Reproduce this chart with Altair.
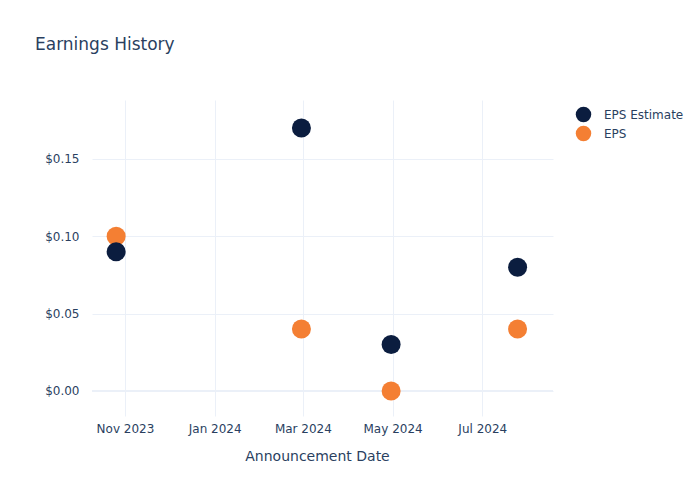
import altair as alt
import pandas as pd

dates = ["2023-10-26", "2024-02-29", "2024-04-30", "2024-07-25"]
eps_estimate = [0.09, 0.17, 0.03, 0.08]
eps_actual = [0.10, 0.04, 0.00, 0.04]
series_names = ["EPS Estimate", "EPS"]
series_colors = ["#0b1d3f", "#f47f33"]
y_ticks = [0.0, 0.05, 0.10, 0.15]
x_ticks = ["2023-11-01", "2024-01-01", "2024-03-01", "2024-05-01", "2024-07-01"]
title_text = "Earnings History"

rows = []
for d, v in zip(dates, eps_actual):
    rows.append({"date": d, "value": v, "series": "EPS"})
for d, v in zip(dates, eps_estimate):
    rows.append({"date": d, "value": v, "series": "EPS Estimate"})
df = pd.DataFrame(rows)

TXT = "#2a3f5f"
GRID = "#EBF0F8"
FONT = "DejaVu Sans"

x_enc = alt.X(
    "date:T",
    title="Announcement Date",
    scale=alt.Scale(domain=["2023-10-09T14:00:00", "2024-08-18T02:00:00"]),
    axis=alt.Axis(
        values=[alt.DateTime(year=int(t[:4]), month=int(t[5:7]), date=1) for t in x_ticks],
        format="%b %Y",
        labelFont=FONT, labelFontSize=12, labelColor=TXT,
        titleFont=FONT, titleFontSize=14, titleColor=TXT, titleFontWeight="normal",
        titlePadding=15, titleX=225, titleAlign="center",
        domain=False, ticks=False, tickSize=0, labelPadding=7,
        grid=True, gridColor=GRID, gridWidth=1,
    ),
)
y_enc = alt.Y(
    "value:Q",
    title=None,
    scale=alt.Scale(domain=[-0.0162, 0.1881], nice=False, zero=False),
    axis=alt.Axis(
        values=y_ticks,
        format="$.2f",
        labelFont=FONT, labelFontSize=12, labelColor=TXT,
        domain=False, ticks=False, tickSize=0, labelPadding=13,
        grid=True, gridColor=GRID, gridWidth=1,
    ),
)

zero = alt.Chart(pd.DataFrame({"z": [0.0]})).mark_rule(color=GRID, strokeWidth=2).encode(
    y=alt.Y("z:Q", scale=alt.Scale(domain=[-0.0162, 0.1881], nice=False, zero=False))
)

points = alt.Chart(df).mark_point(filled=True, opacity=1, size=361, shape="circle").encode(
    x=x_enc,
    y=y_enc,
    color=alt.Color(
        "series:N",
        scale=alt.Scale(domain=series_names, range=series_colors),
        legend=alt.Legend(
            title=None, orient="none", legendX=483, legendY=6,
            symbolSize=240, symbolType="circle", symbolOpacity=1,
            labelFont=FONT, labelFontSize=12, labelColor=TXT,
            labelOffset=12, rowPadding=2,
        ),
    ),
    order=alt.Order("series:N", sort="ascending"),
)

title = alt.Chart(pd.DataFrame({"t": [title_text]})).mark_text(
    align="left", baseline="alphabetic", font=FONT, fontSize=17, color=TXT
).encode(x=alt.value(-57), y=alt.value(-50), text="t:N")

chart = alt.layer(zero, points, title).properties(
    width=461, height=316,
    background="white",
    autosize=alt.AutoSizeParams(type="none"),
    padding={"left": 92, "top": 100, "right": 147, "bottom": 84},
).configure_view(stroke=None, strokeWidth=0)

chart.save("out.html", embed_options={"renderer": "svg", "actions": False})
